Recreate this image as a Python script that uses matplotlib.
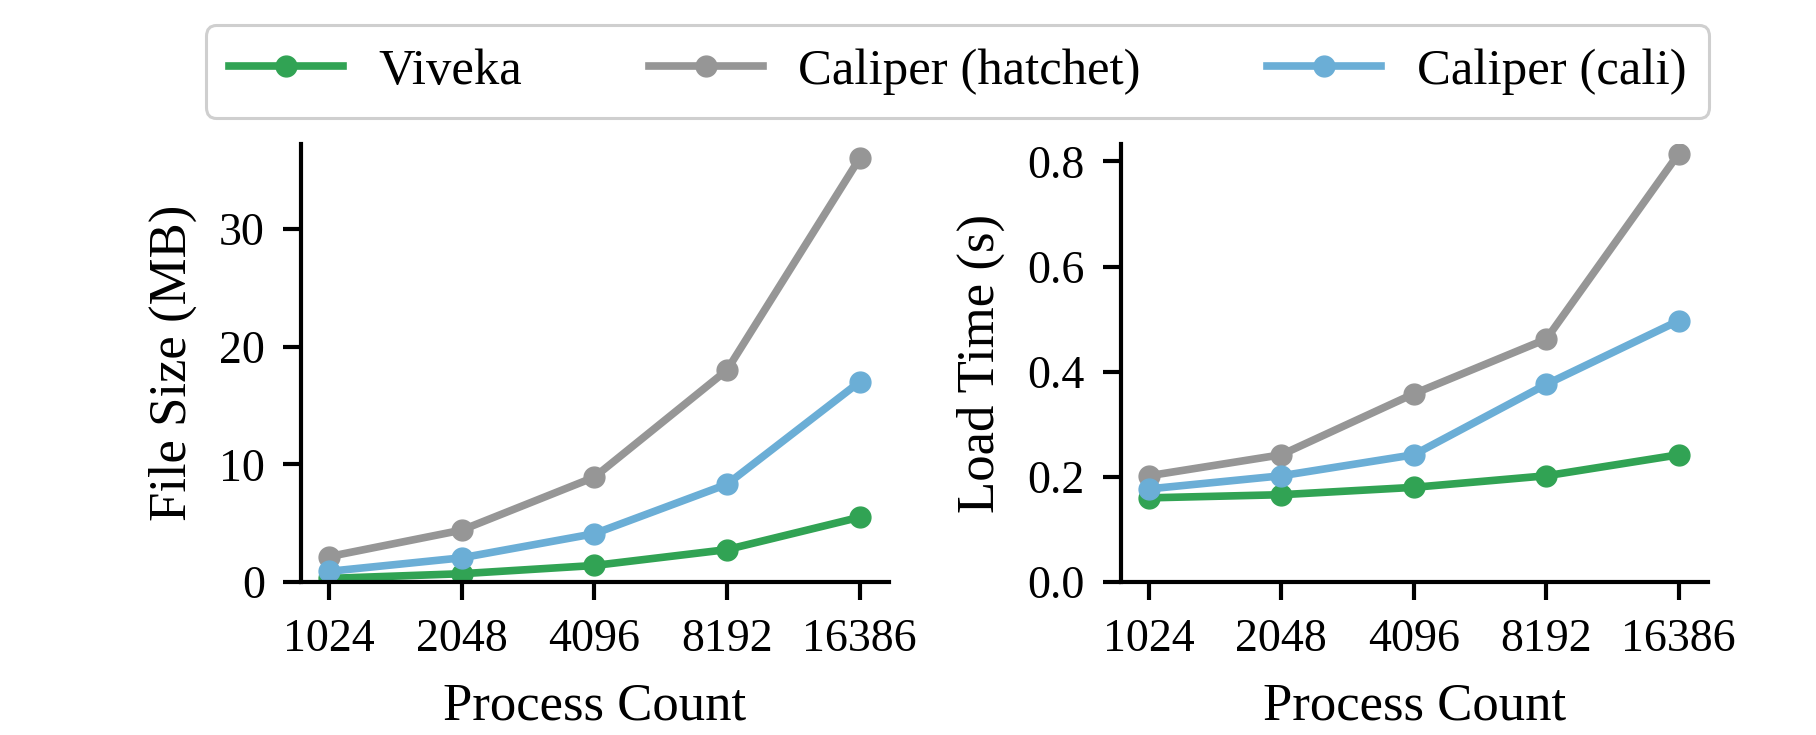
import matplotlib
matplotlib.use("Agg")
import matplotlib.pyplot as plt

plt.rcParams['font.family'] = ['Liberation Serif', 'DejaVu Serif']

procs = ['1024', '2048', '4096', '8192', '16386']

# file size (MB)
size_viveka = [0.3, 0.7, 1.4, 2.75, 5.5]
size_hatchet = [2.15, 4.4, 8.9, 18.0, 36.0]
size_cali = [0.9, 2.05, 4.1, 8.3, 17.0]

# load time (s)
time_viveka = [0.16, 0.166, 0.18, 0.202, 0.242]
time_hatchet = [0.202, 0.242, 0.358, 0.462, 0.815]
time_cali = [0.177, 0.202, 0.242, 0.376, 0.497]

green = '#31a354'
gray = '#969696'
blue = '#6baed6'

fig = plt.figure(figsize=(18.16, 7.35), dpi=100)
ax1 = fig.add_axes([0.1657, 0.2082, 0.3238, 0.5958])
ax2 = fig.add_axes([0.6173, 0.2082, 0.3232, 0.5958])

x = list(range(len(procs)))
sty = dict(lw=5.5, marker='o', ms=15)

for ax, v, h, c in [(ax1, size_viveka, size_hatchet, size_cali),
                    (ax2, time_viveka, time_hatchet, time_cali)]:
    ax.plot(x, v, color=green, label='Viveka', **sty)
    ax.plot(x, h, color=gray, label='Caliper (hatchet)', **sty)
    ax.plot(x, c, color=blue, label='Caliper (cali)', **sty)
    ax.set_xticks(x)
    ax.set_xticklabels(procs)
    ax.set_xlim(-0.21, 4.22)
    ax.set_xlabel('Process Count', fontsize=38, labelpad=16)
    ax.spines['top'].set_visible(False)
    ax.spines['right'].set_visible(False)
    for s in ['left', 'bottom']:
        ax.spines[s].set_linewidth(3)
    ax.tick_params(width=3, length=13, pad=13, labelsize=33)

ax1.set_ylim(0, 37.2)
ax1.set_yticks([0, 10, 20, 30])
ax1.set_ylabel('File Size (MB)', fontsize=38, labelpad=16)

ax2.set_ylim(0, 0.833)
ax2.set_yticks([0.0, 0.2, 0.4, 0.6, 0.8])
ax2.set_yticklabels(['0.0', '0.2', '0.4', '0.6', '0.8'])
ax2.set_ylabel('Load Time (s)', fontsize=38, labelpad=16)

handles, labels = ax1.get_legend_handles_labels()
leg = fig.legend(handles, labels, loc='center', bbox_to_anchor=(0.5273, 0.9027),
                 ncol=3, frameon=True, fancybox=True, edgecolor='#cfcfcf',
                 framealpha=1, fontsize=36.5, handlelength=2.25,
                 columnspacing=2.5, handletextpad=0.7, borderpad=0.45)
leg.get_frame().set_linewidth(2.2)

fig.savefig('out.png', dpi=100)
